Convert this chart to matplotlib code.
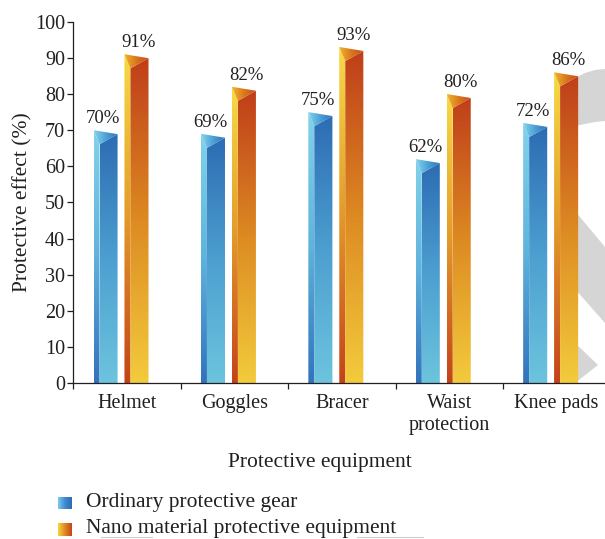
import numpy as np
import matplotlib.pyplot as plt
from matplotlib.patches import Polygon
from matplotlib.colors import LinearSegmentedColormap

# data
categories = ['Helmet', 'Goggles', 'Bracer', 'Waist\nprotection', 'Knee pads']
ordinary = [70, 69, 75, 62, 72]
nano = [91, 82, 93, 80, 86]
series_names = ['Ordinary protective gear', 'Nano material protective equipment']

plt.rcParams['font.family'] = ['Liberation Serif', 'DejaVu Serif']
plt.rcParams['font.size'] = 14
TXT = '#231f20'

W, H = 605, 539
fig = plt.figure(figsize=(W / 100, H / 100), dpi=100)
ax = fig.add_axes([0.1212, 0.2889, 0.8788, 0.6709])

# bar shape (data units)
BW = 0.224      # total bar width
SIDE = 0.056    # left bevel strip
NOTCH = 3.9     # depth of the top facet
DROP = 1.1      # right corner below the peak

blue = dict(front=['#6cc4de', '#4c9fd0', '#2d6cb3'],
            side=['#3273bd', '#5fb3dc', '#82d2ea'],
            facet=['#86d3ec', '#4a9fd6', '#2f6fb6'])
orange = dict(front=['#f3cb3c', '#dd8a22', '#bf3e1a'],
              side=['#c4421a', '#e39a2a', '#f7da45'],
              facet=['#f0b52c', '#d9761c', '#c44c1a'])


def grad_fill(verts, colors, horizontal=False, z=2):
    poly = Polygon(verts, closed=True, facecolor='none', edgecolor='none')
    ax.add_patch(poly)
    xs = [v[0] for v in verts]
    ys = [v[1] for v in verts]
    cmap = LinearSegmentedColormap.from_list('g', colors)
    g = np.linspace(0, 1, 128)
    g = g[None, :] if horizontal else g[:, None]
    im = ax.imshow(g, cmap=cmap, extent=(min(xs), max(xs), min(ys), max(ys)),
                   origin='lower', aspect='auto', interpolation='bilinear', zorder=z)
    im.set_clip_path(poly)


def draw_bar(x0, h, c):
    x1 = x0 + SIDE
    x2 = x0 + BW
    grad_fill([(x0, 0), (x1, 0), (x1, h - NOTCH), (x0, h)], c['side'])
    grad_fill([(x1, 0), (x2, 0), (x2, h - DROP), (x1, h - NOTCH)], c['front'])
    grad_fill([(x0, h), (x2, h - DROP), (x1, h - NOTCH)], c['facet'], horizontal=True)


def px(x, y):
    return (x / W, 1 - y / H)


# grey ornament behind the last group
grey = '#d5d5d5'
shapes = [
    [(575, 78), (585, 73), (595, 70), (605, 69), (605, 121), (595, 122), (585, 124), (575, 126)],
    [(575, 211), (605, 247), (605, 323), (575, 289)],
    [(575, 343), (598, 365), (575, 383)],
]
for s in shapes:
    ax.add_patch(Polygon([px(*p) for p in s], closed=True, transform=fig.transFigure,
                         facecolor=grey, edgecolor='none', zorder=0.5))

x = np.arange(len(categories))
for i in range(len(categories)):
    bl = x[i] - 0.312
    ol = x[i] - 0.024
    draw_bar(bl, ordinary[i], blue)
    draw_bar(ol, nano[i], orange)
    ax.text(bl + BW / 2 - 0.02, ordinary[i] + 1.9, f'{ordinary[i]}%', ha='center',
            va='baseline', fontsize=13.5, color=TXT, zorder=3)
    ax.text(ol + BW / 2 + 0.02, nano[i] + 1.9, f'{nano[i]}%', ha='center',
            va='baseline', fontsize=13.5, color=TXT, zorder=3)

ax.set_xlim(-0.5, 4.45)
ax.set_ylim(0, 100)
ax.set_yticks(np.arange(0, 101, 10))
ax.set_xticks(np.arange(-0.5, 4.0, 1.0))
ax.set_xticklabels([])
ax.set_xticks(x, categories, minor=True)
ax.tick_params(axis='x', which='minor', length=0, pad=8, labelsize=14.5, labelcolor=TXT)
ax.tick_params(axis='x', which='major', length=4, width=0.9, color=TXT)
ax.tick_params(axis='y', length=4, width=0.9, pad=2, labelsize=14.5, labelcolor=TXT, color=TXT)
for sp in ['top', 'right']:
    ax.spines[sp].set_visible(False)
for sp in ['left', 'bottom']:
    ax.spines[sp].set_linewidth(0.9)
    ax.spines[sp].set_color(TXT)

ax.set_ylabel('Protective effect (%)', fontsize=15.5, color=TXT, labelpad=2)
fig.text(320 / W, 1 - 462 / H, 'Protective equipment', ha='center', va='center',
         fontsize=15.5, color=TXT)

# legend with gradient squares
legend_rows = [(503, ['#7fc8ec', '#3d8cd0', '#2c6ab2'], series_names[0]),
               (529, ['#f6d340', '#e08a22', '#c4451a'], series_names[1])]
for yc, cols, label in legend_rows:
    lax = fig.add_axes([58 / W, 1 - (yc + 6.5) / H, 14 / W, 13 / H])
    cm = LinearSegmentedColormap.from_list('l', cols)
    lax.imshow(np.linspace(0, 1, 64)[None, :], cmap=cm, aspect='auto',
               interpolation='bilinear')
    lax.axis('off')
    fig.text(86 / W, 1 - yc / H, label, ha='left', va='center', fontsize=15.5, color=TXT)

# faint rules under the legend text
for xa, xb in [(101, 152), (357, 423)]:
    fig.add_artist(plt.Line2D([xa / W, xb / W], [1 - 537 / H] * 2, transform=fig.transFigure,
                              color='#cfcfcf', linewidth=0.8))

fig.savefig('out.png', dpi=100)
